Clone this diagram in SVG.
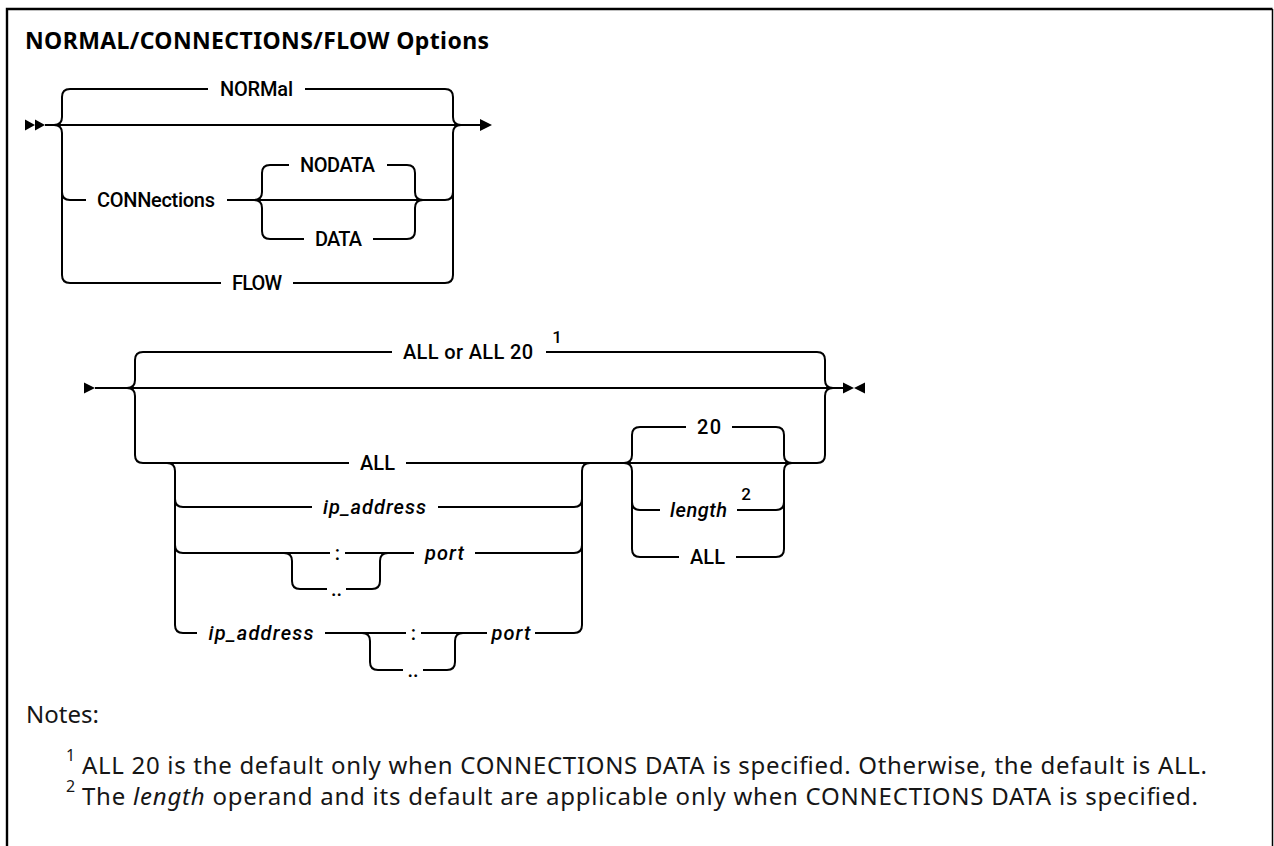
<svg xmlns="http://www.w3.org/2000/svg" width="1274" height="846" viewBox="0 0 1274 846">
<style>
.rail{fill:none;stroke:#000;stroke-width:2}
.frame{fill:none;stroke:#000;stroke-width:2.4}
.frame-r{fill:none;stroke:#000;stroke-width:1.5}
.lbl{font-family:Roboto,"Noto Sans",sans-serif;font-size:20px;font-weight:500;text-anchor:middle;fill:#000}
.it{font-style:italic}
.sup{font-family:Roboto,"Noto Sans",sans-serif;font-size:17px;font-weight:500;fill:#000;text-anchor:middle}
.title{font-family:"Noto Sans",sans-serif;font-size:23px;font-weight:bold;fill:#000}
.note{font-family:"Noto Sans",sans-serif;font-size:24px;fill:#161616}
.nsup{font-family:"Noto Sans",sans-serif;font-size:16px;fill:#161616}
</style>
<rect width="1274" height="846" fill="#fff"/>
<path class="frame" d="M7,850 V9 H1272.5"/>
<path class="frame-r" d="M1272.5,9 V850"/>
<text class="title" x="25" y="49" textLength="464">NORMAL/CONNECTIONS/FLOW Options</text>

<g id="connectors">
  <!-- diagram 1 -->
  <path class="rail" d="M45,125 H481"/>
  <polygon points="25,119.5 35,125 25,130.5"/>
  <polygon points="35,119.5 45,125 35,130.5"/>
  <polygon points="480,119 492,125 480,131"/>
  <path class="rail" d="M54,125 Q62,125 62,117 V97 Q62,89 70,89 H208 M305,89 H445 Q453,89 453,97 V117 Q453,125 461,125"/>
  <path class="rail" d="M54,125 Q62,125 62,133 V275 Q62,283 70,283 H221 M293,283 H445 Q453,283 453,275 V133 Q453,125 461,125"/>
  <path class="rail" d="M62,192 Q62,200 70,200 H86 M227,200 H445 Q453,200 453,192"/>
  <path class="rail" d="M254,200 Q262,200 262,192 V173 Q262,165 270,165 H289 M387,165 H407 Q415,165 415,173 V192 Q415,200 423,200"/>
  <path class="rail" d="M254,200 Q262,200 262,208 V231 Q262,239 270,239 H304 M373,239 H407 Q415,239 415,231 V208 Q415,200 423,200"/>

  <!-- diagram 2 -->
  <path class="rail" d="M95,388 H843"/>
  <polygon points="84,382.5 95,388 84,393.5"/>
  <polygon points="843,382.5 854,388 843,393.5"/>
  <polygon points="865,382.5 854,388 865,393.5"/>
  <path class="rail" d="M127,388 Q135,388 135,380 V360 Q135,352 143,352 H392 M546,352 H817 Q825,352 825,360 V380 Q825,388 833,388"/>
  <path class="rail" d="M127,388 Q135,388 135,396 V455 Q135,463 143,463 H349 M406,463 H817 Q825,463 825,455 V396 Q825,388 833,388"/>
  <!-- inner stack -->
  <path class="rail" d="M167,463 Q175,463 175,471 V625 Q175,633 183,633 H197"/>
  <path class="rail" d="M175,499 Q175,507 183,507 H312 M438,507 H574 Q582,507 582,499"/>
  <path class="rail" d="M175,545 Q175,553 183,553 H330 M345,553 H414 M475,553 H574 Q582,553 582,545"/>
  <path class="rail" d="M284,553 Q292,553 292,561 V581 Q292,589 300,589 H327 M346,589 H372 Q380,589 380,581 V561 Q380,553 388,553"/>
  <path class="rail" d="M325,633 H406 M421,633 H487 M535,633 H574 Q582,633 582,625 V471 Q582,463 590,463"/>
  <path class="rail" d="M362,633 Q370,633 370,641 V662 Q370,670 378,670 H403 M423,670 H447 Q455,670 455,662 V641 Q455,633 463,633"/>
  <!-- length group -->
  <path class="rail" d="M624,463 Q632,463 632,455 V435 Q632,427 640,427 H686 M732,427 H776 Q784,427 784,435 V455 Q784,463 792,463"/>
  <path class="rail" d="M624,463 Q632,463 632,471 V549 Q632,557 640,557 H679 M736,557 H776 Q784,557 784,549 V471 Q784,463 792,463"/>
  <path class="rail" d="M632,502 Q632,510 640,510 H660 M737,510 H776 Q784,510 784,502"/>
</g>

<g id="n-normal"><text class="lbl" x="256.5" y="96" textLength="73">NORMal</text></g>
<g id="n-connections"><text class="lbl" x="156" y="207" textLength="118">CONNections</text></g>
<g id="n-nodata"><text class="lbl" x="337.5" y="172" textLength="75">NODATA</text></g>
<g id="n-data"><text class="lbl" x="338.5" y="246" textLength="47">DATA</text></g>
<g id="n-flow"><text class="lbl" x="257" y="290" textLength="50">FLOW</text></g>

<g id="n-allor"><text class="lbl" x="468" y="359" textLength="130">ALL or ALL 20</text><text class="sup" x="557" y="343">1</text></g>
<g id="n-all"><text class="lbl" x="377.5" y="470" textLength="35">ALL</text></g>
<g id="n-ip1"><text class="lbl it" x="374.5" y="514" textLength="103">ip_address</text></g>
<g id="n-colon1"><text class="lbl" x="337.5" y="560">:</text></g>
<g id="n-dots1"><text class="lbl" x="336.5" y="596">..</text></g>
<g id="n-port1"><text class="lbl it" x="444.5" y="560" textLength="39">port</text></g>
<g id="n-ip2"><text class="lbl it" x="261" y="640" textLength="105">ip_address</text></g>
<g id="n-colon2"><text class="lbl" x="413.5" y="640">:</text></g>
<g id="n-dots2"><text class="lbl" x="413" y="677">..</text></g>
<g id="n-port2"><text class="lbl it" x="511" y="640" textLength="39">port</text></g>
<g id="n-20"><text class="lbl" x="709" y="434" textLength="24">20</text></g>
<g id="n-length"><text class="lbl it" x="698.5" y="517" textLength="57">length</text><text class="sup" x="746" y="500">2</text></g>
<g id="n-all2"><text class="lbl" x="707.5" y="564" textLength="35">ALL</text></g>

<g id="notes">
  <text class="note" x="26" y="723">Notes:</text>
  <text class="nsup" x="66" y="761">1</text>
  <text class="note" x="82" y="774" textLength="1125">ALL 20 is the default only when CONNECTIONS DATA is specified. Otherwise, the default is ALL.</text>
  <text class="nsup" x="66" y="792">2</text>
  <text class="note" x="82" y="805" textLength="1116">The <tspan font-style="italic">length</tspan> operand and its default are applicable only when CONNECTIONS DATA is specified.</text>
</g>
</svg>
